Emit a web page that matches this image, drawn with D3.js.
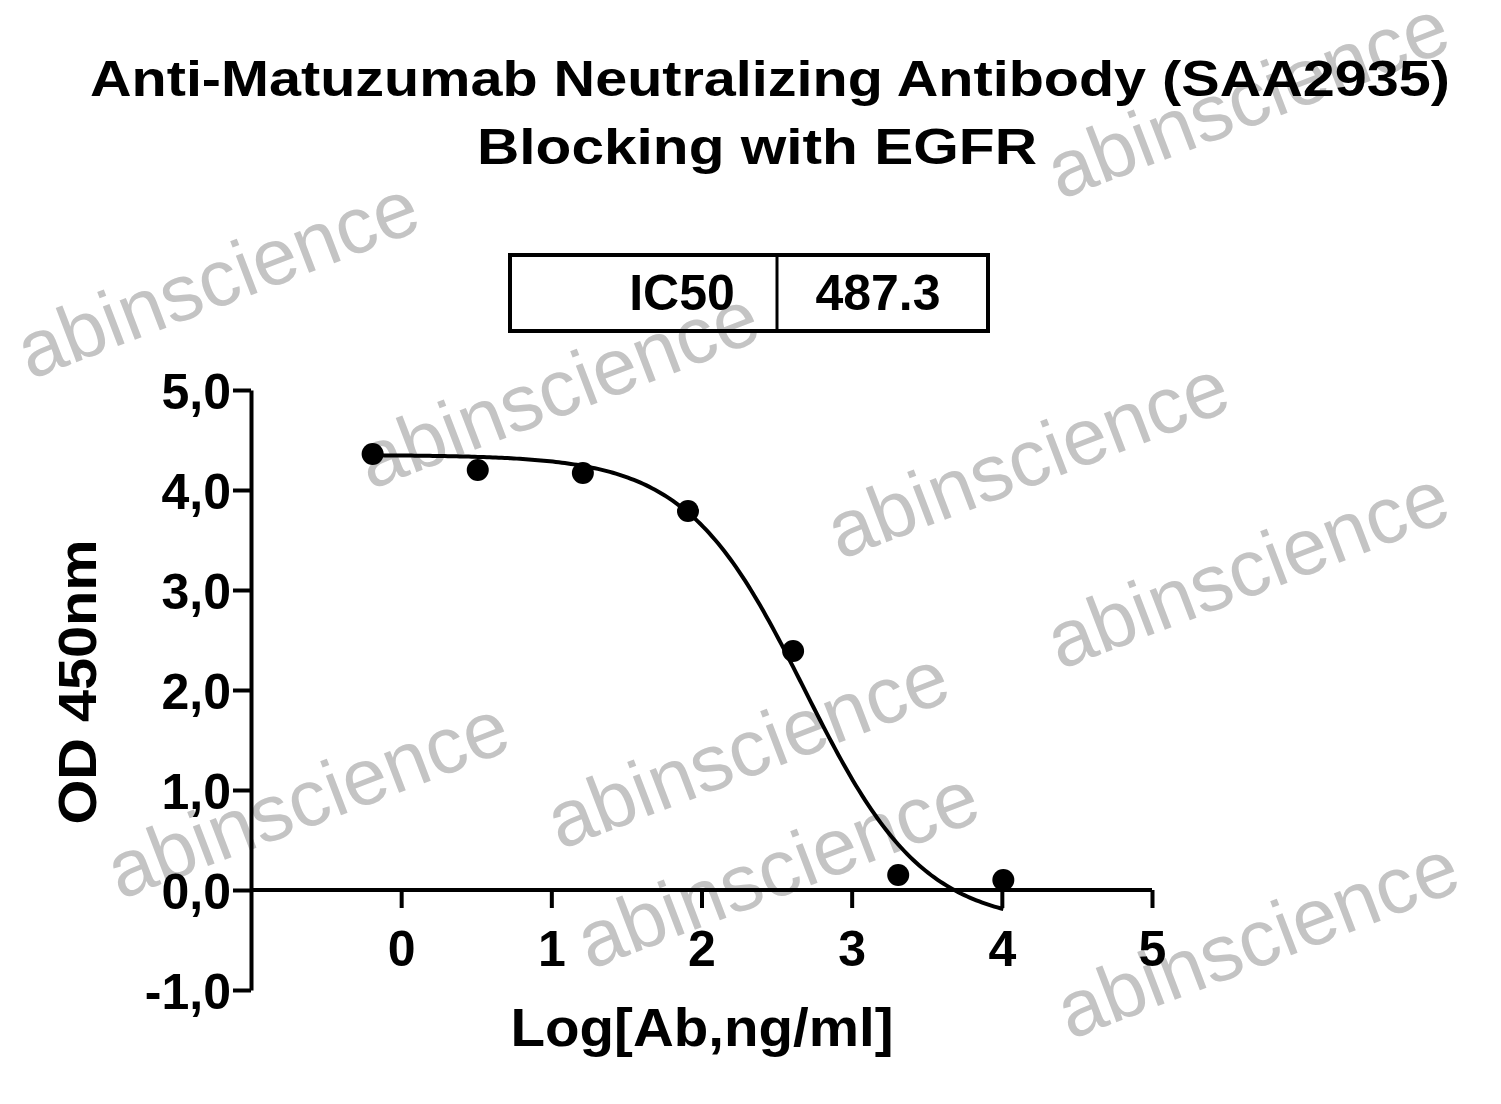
<!DOCTYPE html>
<html><head><meta charset="utf-8">
<script src="https://cdn.jsdelivr.net/npm/d3@7"></script>
<style>body{margin:0;background:#fff}text{font-family:"Liberation Sans",Arial,sans-serif;font-weight:bold}</style>
</head><body>
<svg id="c" width="1501" height="1104"></svg>
<script>
var logConc = [-0.19, 0.51, 1.21, 1.91, 2.61, 3.31, 4.01];
var od = [4.36, 4.20, 4.17, 3.79, 2.39, 0.15, 0.10];
var xTicks = [0, 1, 2, 3, 4, 5];
var yTicks = [-1, 0, 1, 2, 3, 4, 5];
var fit = {top: 4.35, bottom: -0.35, logIC50: Math.log10(487.3), hill: 1.1};

var svg = d3.select("#c");
var x = d3.scaleLinear().domain([-1, 5]).range([251, 1152]);
var y = d3.scaleLinear().domain([-1, 5]).range([990, 390]);

// watermarks
var wm = [[30,380],[370,490],[840,560],[1060,670],[120,900],[590,970],[1070,1040],[1060,200],[560,850]];
wm.forEach(function(p){
  svg.append("text").attr("transform","translate("+p[0]+","+p[1]+") rotate(-21)")
    .attr("font-size",80).style("font-weight","normal")
    .attr("fill","#c4c4c4").text("abinscience");
});

svg.append("text").attr("x",770).attr("y",96).attr("text-anchor","middle").attr("font-size",50)
  .attr("textLength",1360).attr("lengthAdjust","spacingAndGlyphs").text("Anti-Matuzumab Neutralizing Antibody (SAA2935)");
svg.append("text").attr("x",757).attr("y",164).attr("text-anchor","middle").attr("font-size",50)
  .attr("textLength",560).attr("lengthAdjust","spacingAndGlyphs").text("Blocking with EGFR");

// legend box
svg.append("rect").attr("x",510).attr("y",255).attr("width",478).attr("height",76).attr("fill","none").attr("stroke","#000").attr("stroke-width",4);
svg.append("line").attr("x1",777).attr("x2",777).attr("y1",255).attr("y2",331).attr("stroke","#000").attr("stroke-width",3);
svg.append("text").attr("x",682).attr("y",310).attr("text-anchor","middle").attr("font-size",50).text("IC50");
svg.append("text").attr("x",878).attr("y",310).attr("text-anchor","middle").attr("font-size",50).text("487.3");

// axes
var xa = svg.append("g").attr("transform","translate(0,"+y(0)+")")
  .call(d3.axisBottom(x).tickValues(xTicks).tickSize(18).tickSizeOuter(0).tickFormat(d3.format("d")));
xa.select(".domain").attr("d","M251,0H1152");
var ya = svg.append("g").attr("transform","translate(251,0)")
  .call(d3.axisLeft(y).tickValues(yTicks).tickSize(18).tickSizeOuter(0).tickFormat(function(d){return d3.format(".1f")(d).replace(".",",").replace("−","-");}));
[xa, ya].forEach(function(g){
  g.selectAll("path,line").attr("stroke","#000").attr("stroke-width",4);
  g.selectAll("text").attr("font-size",50).attr("fill","#000").style("font-family","Liberation Sans, Arial").style("font-weight","bold");
});
xa.selectAll("text").attr("dy","1.1em");
ya.selectAll("text").attr("dy","0.36em").attr("x",-20);

svg.append("text").attr("x",702).attr("y",1046).attr("text-anchor","middle").attr("font-size",54)
  .attr("textLength",383).attr("lengthAdjust","spacingAndGlyphs").text("Log[Ab,ng/ml]");
svg.append("text").attr("transform","translate(96,682) rotate(-90)").attr("text-anchor","middle").attr("font-size",54)
  .attr("textLength",285).attr("lengthAdjust","spacingAndGlyphs").text("OD 450nm");

// fitted curve
function f(v){return fit.bottom + (fit.top-fit.bottom)/(1+Math.pow(10,(v-fit.logIC50)*fit.hill));}
var xs = d3.range(logConc[0], logConc[logConc.length-1]+0.001, 0.02);
svg.append("path").datum(xs).attr("fill","none").attr("stroke","#000").attr("stroke-width",4)
  .attr("d", d3.line().x(function(d){return x(d);}).y(function(d){return y(f(d));}));

svg.selectAll("circle.pt").data(logConc).enter().append("circle").attr("class","pt")
  .attr("cx",function(d){return x(d);}).attr("cy",function(d,i){return y(od[i]);}).attr("r",11).attr("fill","#000");
</script>
</body></html>
